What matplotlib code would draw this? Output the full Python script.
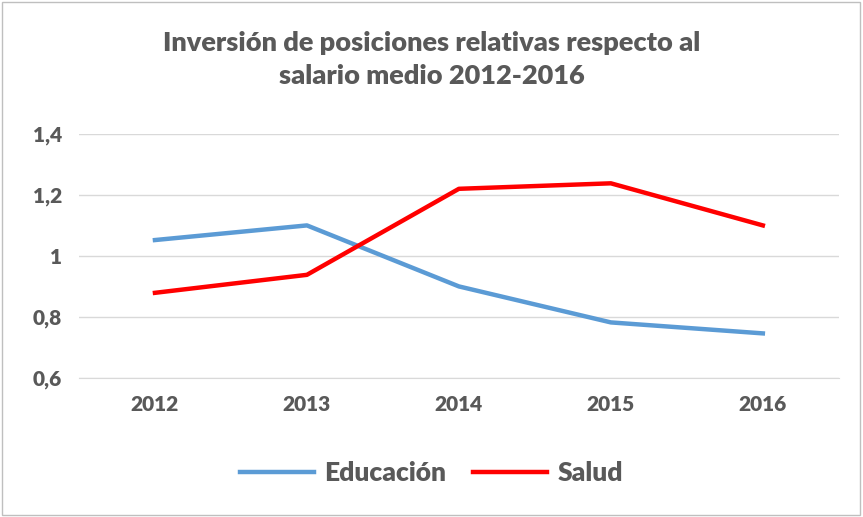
import matplotlib.pyplot as plt
from matplotlib.patches import Rectangle

years = ["2012", "2013", "2014", "2015", "2016"]
educacion = [1.052, 1.10, 0.90, 0.782, 0.746]
salud = [0.879, 0.938, 1.22, 1.238, 1.10]
yticks = [0.6, 0.8, 1.0, 1.2, 1.4]
ytick_labels = ["0,6", "0,8", "1", "1,2", "1,4"]

plt.rcParams["font.family"] = "Lato"
grey = "#595959"

fig = plt.figure(figsize=(8.63, 5.17), dpi=100)
ax = fig.add_axes([0.0915, 0.269, 0.8805, 0.472])

x = range(len(years))
ax.plot(x, educacion, color="#5B9BD5", lw=3.2, label="Educación")
ax.plot(x, salud, color="#FF0000", lw=3.2, label="Salud")

ax.set_xlim(-0.5, 4.5)
ax.set_ylim(0.6, 1.4)
ax.set_yticks(yticks)
ax.set_yticklabels(ytick_labels)
ax.set_xticks(list(x))
ax.set_xticklabels(years)
ax.tick_params(length=0, labelsize=15, labelcolor=grey, pad=12)
for lab in ax.get_xticklabels() + ax.get_yticklabels():
    lab.set_fontweight("heavy")
ax.grid(axis="y", color="#D9D9D9", lw=1)
ax.set_axisbelow(True)
for s in ax.spines.values():
    s.set_visible(False)
ax.spines["bottom"].set_visible(True)
ax.spines["bottom"].set_color("#D9D9D9")

fig.text(0.5, 0.885, "Inversión de posiciones relativas respecto al\nsalario medio 2012-2016",
         ha="center", va="center", fontsize=19.5, fontweight="heavy", color=grey,
         linespacing=1.45)

fig.legend(loc="center", bbox_to_anchor=(0.5, 0.085), ncol=2, frameon=False,
           prop={"size": 19, "weight": "heavy"}, labelcolor=grey,
           handlelength=2.8, columnspacing=1.0, handletextpad=0.4)

fig.add_artist(Rectangle((0.002, 0.003), 0.995, 0.993, transform=fig.transFigure,
                         fill=False, edgecolor="#BFBFBF", lw=1))

fig.savefig("out.png", dpi=100)
